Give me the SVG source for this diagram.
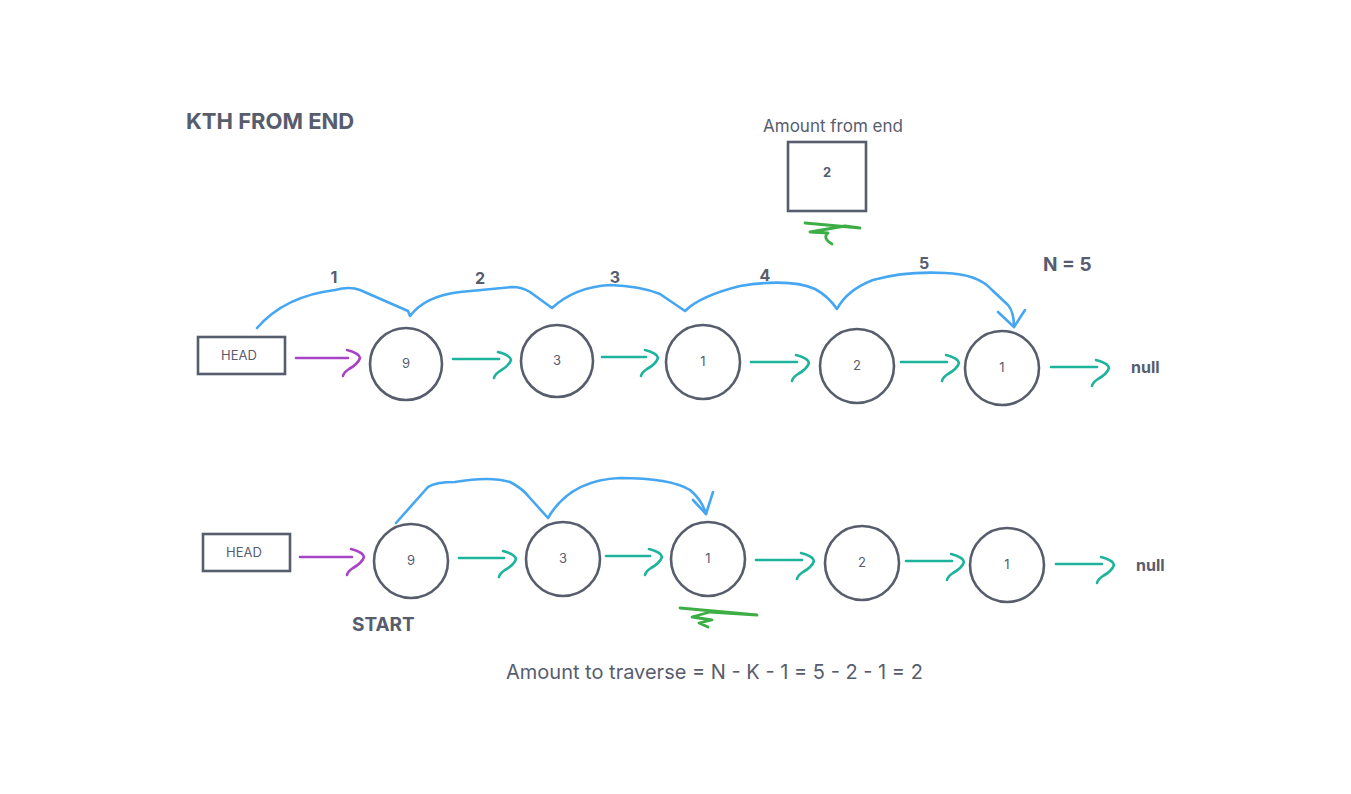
<svg xmlns="http://www.w3.org/2000/svg" width="1351" height="794" viewBox="0 0 1351 794">
<style>
.node{fill:none;stroke:#585d6e;stroke-width:2.6}
.t{font-family:Inter,"Liberation Sans",Arial,sans-serif;fill:#585d6e}
.n{font-size:13px;text-anchor:middle}
.b{font-weight:bold}
.c{fill:none;stroke-linecap:round;stroke-linejoin:round;stroke-width:2.6}
.blue{stroke:#45a6f2}
.teal{stroke:#1db39c}
.purple{stroke:#a744c6}
.green{stroke:#3cae45;stroke-width:2.8}
</style>
<defs>
<path id="ah" d="M -13 -8 Q -1 -5 0 0 Q -2 6 -11 11 Q -16 14 -17 18" />
</defs>
<rect width="1351" height="794" fill="#ffffff"/>
<text class="t b" x="186" y="129" font-size="22">KTH FROM END</text>
<text class="t" x="833" y="132" font-size="17" text-anchor="middle">Amount from end</text>
<text class="t b" x="1043" y="271" font-size="19">N = 5</text>

<g id="amount-box">
<rect class="node" x="788" y="142" width="78" height="69"/>
<text class="t n b" x="827" y="177" font-size="15">2</text>
</g>

<g id="top-head"><rect class="node" x="198" y="337" width="87" height="37"/><text class="t n" x="239" y="360">HEAD</text></g>
<g id="top-n1"><circle class="node" cx="406" cy="364" r="36"/><text class="t n" x="406" y="368">9</text></g>
<g id="top-n2"><circle class="node" cx="557" cy="361" r="36"/><text class="t n" x="557" y="365">3</text></g>
<g id="top-n3"><circle class="node" cx="703" cy="362" r="37"/><text class="t n" x="703" y="366">1</text></g>
<g id="top-n4"><circle class="node" cx="857" cy="366" r="37"/><text class="t n" x="857" y="370">2</text></g>
<g id="top-n5"><circle class="node" cx="1002" cy="368" r="37"/><text class="t n" x="1002" y="372">1</text></g>
<g id="top-null"><text class="t b" x="1131" y="373" font-size="16">null</text></g>

<g id="bot-head"><rect class="node" x="203" y="534" width="87" height="37"/><text class="t n" x="244" y="557">HEAD</text></g>
<g id="bot-n1"><circle class="node" cx="411" cy="561" r="37"/><text class="t n" x="411" y="565">9</text></g>
<g id="bot-n2"><circle class="node" cx="563" cy="559" r="37"/><text class="t n" x="563" y="563">3</text></g>
<g id="bot-n3"><circle class="node" cx="708" cy="559" r="37"/><text class="t n" x="708" y="563">1</text></g>
<g id="bot-n4"><circle class="node" cx="862" cy="563" r="37"/><text class="t n" x="862" y="567">2</text></g>
<g id="bot-n5"><circle class="node" cx="1007" cy="565" r="37"/><text class="t n" x="1007" y="569">1</text></g>
<g id="bot-null"><text class="t b" x="1136" y="571" font-size="16">null</text></g>

<text class="t b" x="352" y="631" font-size="19">START</text>
<text class="t" x="506" y="679" font-size="20">Amount to traverse = N - K - 1 = 5 - 2 - 1 = 2</text>

<g id="connectors">
<path class="c purple" d="M 296 358 L 348 358"/>
<use href="#ah" class="c purple" transform="translate(360 358)"/>
<path class="c teal" d="M 453 359 L 499 359"/>
<use href="#ah" class="c teal" transform="translate(511 360)"/>
<path class="c teal" d="M 602 357 L 646 357"/>
<use href="#ah" class="c teal" transform="translate(658 358)"/>
<path class="c teal" d="M 751 362 L 797 362"/>
<use href="#ah" class="c teal" transform="translate(809 363)"/>
<path class="c teal" d="M 901 362 L 947 362"/>
<use href="#ah" class="c teal" transform="translate(959 363)"/>
<path class="c teal" d="M 1051 367 L 1097 367"/>
<use href="#ah" class="c teal" transform="translate(1109 368)"/>

<path class="c purple" d="M 300 557 L 352 557"/>
<use href="#ah" class="c purple" transform="translate(364 557)"/>
<path class="c teal" d="M 459 558 L 504 558"/>
<use href="#ah" class="c teal" transform="translate(516 559)"/>
<path class="c teal" d="M 606 556 L 650 556"/>
<use href="#ah" class="c teal" transform="translate(662 557)"/>
<path class="c teal" d="M 756 560 L 802 560"/>
<use href="#ah" class="c teal" transform="translate(814 561)"/>
<path class="c teal" d="M 906 561 L 952 561"/>
<use href="#ah" class="c teal" transform="translate(964 562)"/>
<path class="c teal" d="M 1056 564 L 1102 564"/>
<use href="#ah" class="c teal" transform="translate(1114 565)"/>

<path class="c blue" d="M 257 328 Q 285 296 335 290 Q 350 286 360 290 L 408 311 L 410 316 Q 425 296 460 292 L 512 287 Q 522 287 530 292 L 552 308 Q 575 287 610 285 Q 640 286 660 294 L 685 311 Q 700 296 740 286 Q 790 278 815 289 Q 828 296 837 309 Q 847 290 873 280 Q 905 271 945 273 Q 978 274 992 290 L 1008 305 Q 1014 312 1014 327"/>
<path class="c blue" d="M 998 312 L 1014 327 L 1025 310"/>
<text class="t b" x="334" y="283" font-size="16" text-anchor="middle">1</text>
<text class="t b" x="480" y="284" font-size="16" text-anchor="middle">2</text>
<text class="t b" x="615" y="283" font-size="16" text-anchor="middle">3</text>
<text class="t b" x="765" y="281" font-size="16" text-anchor="middle">4</text>
<text class="t b" x="924" y="269" font-size="16" text-anchor="middle">5</text>

<path class="c blue" d="M 396 523 L 428 487 Q 435 482 455 482 Q 490 476 510 482 Q 522 488 530 498 L 548 518 Q 570 480 620 478 Q 670 478 690 490 Q 702 500 706 514"/>
<path class="c blue" d="M 693 500 L 706 514 L 713 492"/>

<path class="c green" d="M 805 223 L 860 228 L 845 226 L 810 232 L 828 233 Q 822 238 832 244"/>
<path class="c green" d="M 680 608 L 757 615 L 710 612 L 692 617 L 712 620 L 699 623 L 708 627"/>
</g>
</svg>
